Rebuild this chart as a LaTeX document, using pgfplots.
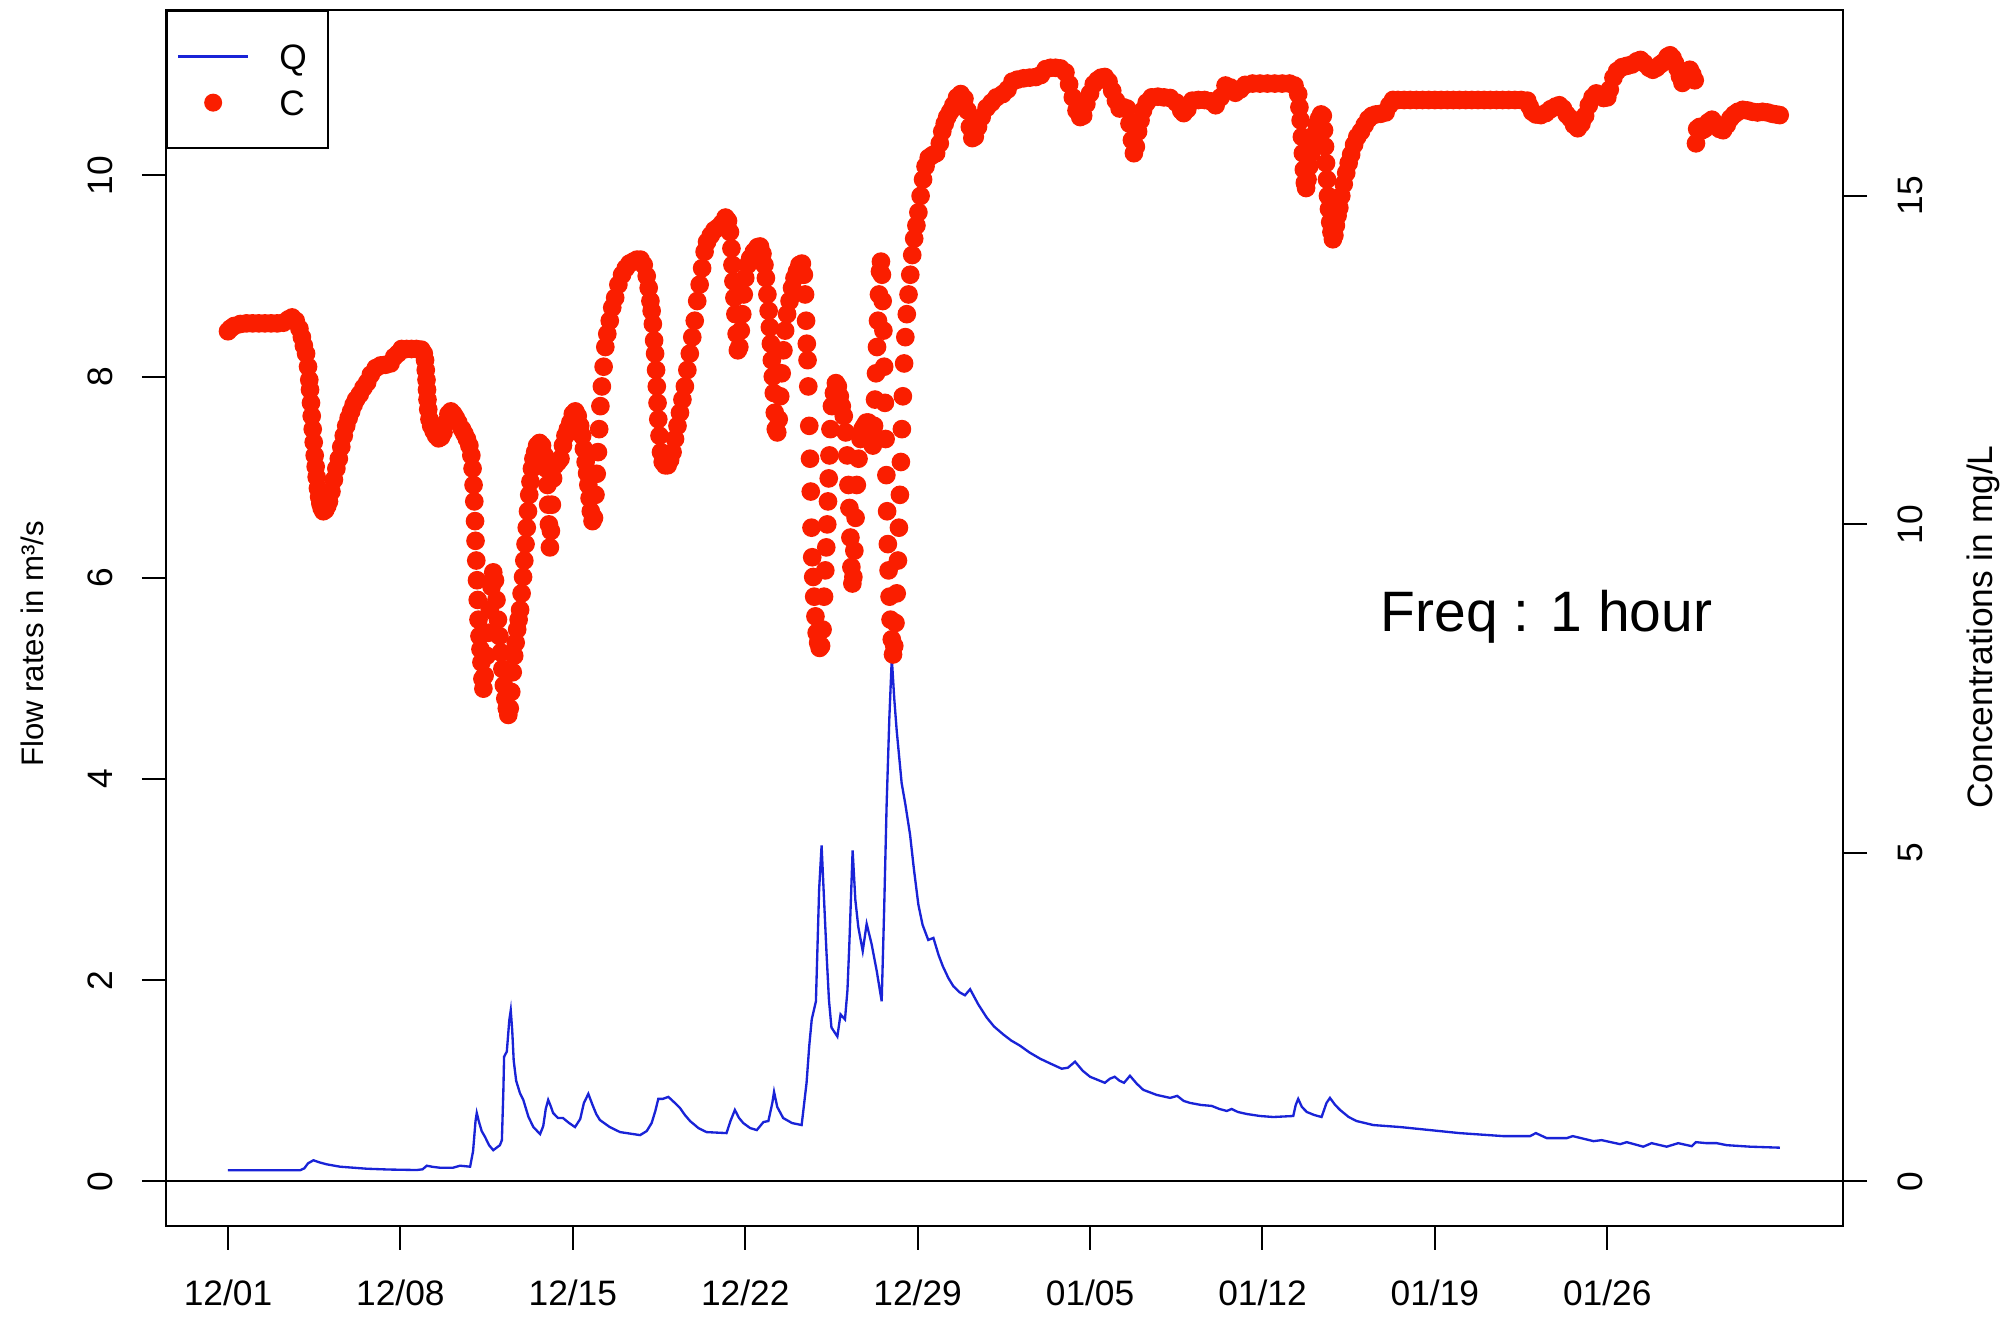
\documentclass[border=0pt]{standalone}
\usepackage{fontspec}
\setmainfont{Liberation Sans}
\usepackage{pgfplots}
\pgfplotsset{compat=1.18}
\definecolor{qblue}{RGB}{25,35,215}
\definecolor{cred}{RGB}{250,30,0}
\begin{document}
\fontsize{10.6}{12.7}\selectfont
\begin{tikzpicture}
\useasboundingbox (0,0) rectangle (602.1pt,395.7pt);
\begin{axis}[
  at={(49.8pt,27.9pt)}, anchor=south west,
  scale only axis, width=503.1pt, height=364.8pt,
  xmin=-2.517, xmax=65.57, ymin=-0.4433, ymax=11.644,
  axis line style={line width=0.6pt},
  every tick/.style={black, line width=0.6pt},
  tick align=outside, major tick length=7.2pt,
  xtick pos=bottom, ytick pos=left,
  xtick={0,7,14,21,28,35,42,49,56},
  xticklabels={12/01,12/08,12/15,12/22,12/29,01/05,01/12,01/19,01/26},
  ytick={0,2,4,6,8,10},
  /pgf/number format/assume math mode=true,
  tick label style={font=\fontsize{10.6}{12.7}\selectfont},
  xticklabel style={yshift=-12.9pt, anchor=center, inner sep=0pt},
  yticklabel style={xshift=-12.45pt, rotate=90, anchor=center, inner sep=0pt},
  ylabel={Flow rates in m³/s},
  ylabel style={at={(axis description cs:-0.0799,0.4786)}, anchor=center, inner sep=0pt, font=\fontsize{9.35}{11}\selectfont},
]
\addplot[black, line width=0.6pt, forget plot] coordinates {(-2.517,0) (65.57,0)};
\addplot[qblue, line width=0.7pt, forget plot] coordinates {
(0,0.11)(1,0.11)(2,0.11)(2.92,0.11)(3.1,0.13)(3.25,0.18)(3.47,0.21)(3.7,0.19)(4,0.17)(4.55,0.146)(5.63,0.126)(6.5,0.118)(7.66,0.113)(7.9,0.12)(8.07,0.156)(8.3,0.145)(8.6,0.136)(9.14,0.136)(9.42,0.156)(9.83,0.146)(9.95,0.3)(10.05,0.6)(10.1,0.68)(10.18,0.6)(10.3,0.5)(10.44,0.44)(10.6,0.36)(10.77,0.31)(11.04,0.36)(11.12,0.41)(11.18,0.9)(11.21,1.24)(11.32,1.29)(11.42,1.6)(11.48,1.70)(11.54,1.5)(11.6,1.2)(11.7,1.0)(11.85,0.88)(11.99,0.81)(12.2,0.64)(12.4,0.54)(12.67,0.47)(12.8,0.55)(12.9,0.72)(13,0.81)(13.1,0.75)(13.2,0.68)(13.4,0.63)(13.6,0.63)(13.85,0.58)(14.09,0.54)(14.3,0.62)(14.45,0.78)(14.63,0.87)(14.8,0.76)(14.95,0.67)(15.1,0.61)(15.5,0.54)(15.92,0.49)(16.73,0.46)(17,0.5)(17.2,0.58)(17.35,0.7)(17.47,0.82)(17.65,0.82)(17.88,0.84)(18.1,0.79)(18.35,0.73)(18.55,0.66)(18.76,0.60)(19.1,0.53)(19.43,0.49)(20.24,0.48)(20.4,0.6)(20.58,0.71)(20.75,0.63)(20.92,0.58)(21.2,0.53)(21.47,0.51)(21.74,0.59)(21.94,0.60)(22.1,0.78)(22.17,0.89)(22.3,0.74)(22.54,0.63)(22.9,0.58)(23.29,0.56)(23.49,0.98)(23.6,1.35)(23.7,1.61)(23.87,1.79)(24.0,2.9)(24.1,3.34)(24.2,2.8)(24.3,2.27)(24.4,1.8)(24.5,1.53)(24.74,1.44)(24.87,1.66)(25.05,1.61)(25.15,1.9)(25.23,2.38)(25.36,3.29)(25.47,2.8)(25.59,2.53)(25.77,2.29)(25.93,2.56)(26.13,2.36)(26.34,2.09)(26.54,1.79)(26.64,2.7)(26.74,3.74)(26.85,4.6)(26.95,5.2)(27.05,4.8)(27.15,4.48)(27.35,3.96)(27.5,3.75)(27.69,3.45)(27.85,3.1)(28.03,2.75)(28.2,2.55)(28.43,2.40)(28.64,2.42)(28.85,2.25)(29.02,2.14)(29.25,2.02)(29.45,1.94)(29.7,1.88)(29.92,1.85)(30.13,1.91)(30.46,1.76)(30.8,1.63)(31.1,1.54)(31.48,1.46)(31.8,1.40)(32.15,1.35)(32.55,1.28)(32.97,1.22)(33.4,1.17)(33.85,1.12)(34.1,1.13)(34.39,1.19)(34.7,1.1)(35,1.04)(35.4,1)(35.6,0.98)(35.8,1.02)(36,1.04)(36.2,1.0)(36.38,0.98)(36.62,1.05)(36.9,0.97)(37.16,0.91)(37.7,0.86)(38.25,0.83)(38.54,0.85)(38.8,0.8)(39.06,0.78)(39.5,0.76)(39.94,0.75)(40.25,0.72)(40.55,0.70)(40.75,0.72)(41.0,0.69)(41.36,0.67)(41.9,0.65)(42.44,0.64)(43.25,0.65)(43.35,0.76)(43.45,0.82)(43.6,0.74)(43.8,0.69)(44.1,0.66)(44.4,0.64)(44.6,0.78)(44.74,0.83)(44.95,0.76)(45.15,0.71)(45.5,0.64)(45.82,0.60)(46.5,0.56)(47.6,0.54)(48.4,0.52)(50,0.48)(51.78,0.45)(52.86,0.45)(53.1,0.48)(53.54,0.43)(54.35,0.43)(54.6,0.45)(55.44,0.40)(55.77,0.41)(56.52,0.37)(56.79,0.39)(57.46,0.345)(57.8,0.38)(58.41,0.345)(58.88,0.38)(59.43,0.35)(59.6,0.39)(60.03,0.38)(60.44,0.38)(60.85,0.36)(61.8,0.345)(63.01,0.335)
};
\node[anchor=base west, inner sep=0pt, font=\fontsize{17.1}{20}\selectfont] at (axis cs:46.77,5.47) {Freq : 1 hour};
\end{axis}
\begin{axis}[
  at={(49.8pt,27.9pt)}, anchor=south west,
  scale only axis, width=503.1pt, height=364.8pt,
  xmin=-2.517, xmax=65.57, ymin=-0.679, ymax=17.83,
  axis x line=none, axis y line*=right,
  axis line style={line width=0.6pt},
  every tick/.style={black, line width=0.6pt},
  tick align=outside, major tick length=7.2pt,
  ytick={0,5,10,15},
  /pgf/number format/assume math mode=true,
  tick label style={font=\fontsize{10.6}{12.7}\selectfont},
  yticklabel style={xshift=12.9pt, rotate=90, anchor=center, inner sep=0pt},
  ylabel={Concentrations in mg/L},
  ylabel style={at={(axis description cs:1.0835,0.4926)}, anchor=center, inner sep=0pt, font=\fontsize{10.6}{12.7}\selectfont},
  legend cell align=left,
  legend style={at={(0,1)}, anchor=north west, draw=black, line width=0.6pt, fill=white,
    inner xsep=3pt, inner ysep=9.9pt, row sep=6.2pt,
    font=\fontsize{10.6}{12.7}\selectfont,
    nodes={inner sep=0pt, text height=7.6pt, text depth=0pt},
    /tikz/every odd column/.append style={column sep=9pt}},
]
\addlegendimage{qblue, line width=0.7pt, legend image code/.code={\draw[qblue, line width=0.7pt] (0pt,0pt) -- (21pt,0pt);}}
\addlegendentry{Q\rule{3.45pt}{0pt}}
\addlegendimage{cred, legend image code/.code={\path[draw=none] (0pt,0pt) -- (21pt,0pt); \fill[cred, draw=none] (10.5pt,0pt) circle (2.7pt);}}
\addlegendentry{C}
\addplot[only marks, mark=*, color=cred, mark size=2.6pt, mark options={draw=none, fill=cred}, forget plot] coordinates {
(0,12.94)(0.1,12.98)(0.25,13.02)(0.5,13.05)(0.75,13.06)(1,13.06)(1.25,13.06)(1.5,13.06)(1.75,13.06)(2,13.06)(2.25,13.07)(2.45,13.12)(2.6,13.15)(2.75,13.1)(2.9,12.98)
(3,12.85)(3.08,12.72)(3.17,12.6)(3.25,12.4)(3.3,12.2)(3.33,12.05)(3.37,11.85)(3.4,11.65)(3.44,11.45)(3.48,11.25)(3.52,11.05)(3.56,10.88)(3.6,10.72)(3.65,10.55)(3.7,10.42)(3.75,10.32)(3.8,10.25)(3.87,10.2)(3.95,10.22)(4.03,10.28)(4.1,10.35)
(4.2,10.5)(4.3,10.68)(4.4,10.85)(4.5,11)(4.6,11.18)(4.7,11.35)(4.8,11.5)(4.9,11.62)(5,11.72)(5.1,11.82)(5.2,11.9)(5.35,11.98)(5.5,12.08)(5.65,12.16)(5.8,12.28)(6,12.38)(6.2,12.42)(6.4,12.43)(6.6,12.45)(6.75,12.55)(6.9,12.6)(7.05,12.67)(7.25,12.67)(7.45,12.67)(7.65,12.67)(7.85,12.66)
(7.95,12.6)(8,12.5)(8.03,12.35)(8.06,12.2)(8.08,12.05)(8.1,11.9)(8.13,11.75)(8.18,11.6)(8.25,11.5)(8.35,11.42)(8.45,11.35)(8.55,11.31)(8.65,11.33)(8.75,11.4)(8.85,11.55)(8.95,11.68)(9.05,11.72)(9.15,11.68)(9.25,11.62)(9.35,11.55)(9.5,11.45)(9.6,11.38)(9.7,11.3)(9.8,11.2)(9.88,11.05)
(9.93,10.85)(9.97,10.6)(10,10.35)(10.03,10.05)(10.05,9.75)(10.08,9.45)(10.11,9.15)(10.14,8.85)(10.17,8.55)(10.21,8.3)(10.25,8.1)(10.29,7.9)(10.33,7.65)(10.37,7.5)
(10.42,7.7)(10.5,8)(10.57,8.35)(10.63,8.7)(10.7,9.05)(10.77,9.27)(10.84,9.15)(10.9,8.85)(10.96,8.55)(11.02,8.3)(11.08,8.05)(11.14,7.8)(11.2,7.55)(11.26,7.35)(11.32,7.2)(11.38,7.1)(11.44,7.2)(11.5,7.45)(11.56,7.75)(11.62,8)(11.68,8.2)(11.74,8.4)(11.8,8.55)(11.86,8.7)(11.92,8.95)(11.98,9.2)(12.03,9.45)(12.08,9.7)(12.13,9.95)(12.18,10.2)(12.23,10.45)(12.28,10.65)(12.34,10.85)(12.4,11)(12.47,11.1)(12.55,11.2)(12.65,11.24)(12.75,11.2)(12.85,11.05)(12.92,10.85)
(12.97,10.6)(13,10.3)(13.03,10)(13.07,9.65)(13.11,9.9)(13.15,10.3)(13.2,10.7)(13.28,10.9)(13.4,10.95)(13.5,11)(13.6,11.2)(13.7,11.35)(13.8,11.45)(13.9,11.55)(14,11.68)(14.1,11.72)(14.2,11.65)(14.3,11.5)(14.38,11.35)(14.45,11.15)(14.52,10.95)(14.58,10.78)(14.63,10.6)(14.68,10.4)(14.73,10.2)(14.8,10.05)(14.86,10.1)(14.92,10.45)(14.97,10.77)(15.02,11.1)(15.07,11.45)(15.12,11.8)(15.18,12.1)(15.25,12.4)(15.32,12.7)(15.4,12.9)(15.5,13.1)(15.6,13.3)(15.72,13.45)(15.85,13.65)(16,13.8)(16.15,13.9)(16.3,13.97)(16.45,14)(16.6,14.03)(16.75,14.03)(16.88,13.95)(17,13.78)(17.08,13.6)(17.15,13.4)(17.2,13.25)(17.25,13.05)(17.3,12.8)(17.34,12.6)(17.38,12.35)(17.41,12.1)(17.44,11.85)(17.47,11.6)(17.52,11.35)(17.58,11.1)(17.65,10.95)(17.75,10.9)(17.85,10.9)(17.95,10.98)(18.05,11.1)(18.15,11.3)(18.25,11.5)(18.35,11.7)(18.45,11.9)(18.55,12.1)(18.65,12.35)(18.75,12.6)(18.85,12.85)(18.95,13.1)(19.05,13.4)(19.15,13.65)(19.25,13.9)(19.35,14.15)(19.45,14.3)(19.6,14.4)(19.75,14.48)(19.9,14.52)(20.05,14.58)(20.2,14.67)(20.3,14.62)(20.38,14.45)(20.44,14.2)(20.48,13.95)(20.52,13.7)(20.56,13.45)(20.6,13.2)(20.65,12.9)(20.7,12.65)(20.76,12.7)(20.82,12.95)(20.88,13.2)(20.94,13.5)(21,13.75)(21.1,13.95)(21.2,14.05)(21.35,14.15)(21.5,14.22)(21.6,14.23)(21.7,14.12)(21.78,13.95)(21.84,13.75)(21.9,13.5)(21.95,13.25)(22,13)(22.04,12.75)(22.08,12.5)(22.12,12.25)(22.16,12)(22.2,11.7)(22.24,11.45)(22.3,11.4)(22.36,11.6)(22.42,11.95)(22.48,12.3)(22.55,12.65)(22.62,12.95)(22.7,13.2)(22.8,13.4)(22.9,13.6)(23,13.75)(23.1,13.85)(23.2,13.95)(23.3,13.97)(23.38,13.8)(23.43,13.5)(23.47,13.1)(23.5,12.75)(23.53,12.5)(23.56,12.1)(23.6,11.5)(23.63,11)(23.66,10.5)(23.69,9.95)(23.72,9.5)(23.76,9.2)(23.8,8.9)(23.85,8.6)(23.9,8.35)(23.96,8.2)(24.02,8.12)(24.08,8.15)(24.14,8.4)(24.2,8.9)(24.25,9.3)(24.29,9.65)(24.33,10)(24.36,10.35)(24.39,10.7)(24.42,11.05)(24.46,11.45)(24.52,11.8)(24.6,12)(24.68,12.15)(24.76,12.1)(24.84,11.95)(24.92,11.8)(25,11.65)(25.08,11.4)(25.14,11.05)(25.19,10.6)(25.23,10.25)(25.27,9.8)(25.31,9.35)(25.35,9.1)(25.39,9.2)(25.43,9.6)(25.48,10.1)(25.53,10.6)(25.6,11)(25.68,11.3)(25.76,11.45)(25.84,11.5)(25.92,11.55)(26,11.55)(26.06,11.45)(26.12,11.3)(26.18,11.2)(26.23,11.5)(26.27,11.9)(26.31,12.3)(26.35,12.7)(26.39,13.1)(26.43,13.5)(26.47,13.85)(26.51,14)(26.55,13.8)(26.58,13.4)(26.61,12.95)(26.64,12.4)(26.67,11.85)(26.7,11.3)(26.73,10.75)(26.76,10.2)(26.79,9.7)(26.82,9.3)(26.86,8.9)(26.9,8.55)(26.95,8.25)(27,8.02)(27.05,8.15)(27.1,8.5)(27.15,8.95)(27.2,9.45)(27.24,9.95)(27.28,10.45)(27.32,10.95)(27.36,11.45)(27.4,11.95)(27.45,12.45)(27.5,12.85)(27.56,13.2)(27.63,13.5)(27.7,13.8)(27.78,14.1)(27.86,14.35)(27.95,14.55)(28.03,14.75)(28.12,15)(28.22,15.25)(28.32,15.45)(28.45,15.58)(28.6,15.62)(28.75,15.65)(28.9,15.8)(29,15.98)(29.1,16.1)(29.2,16.2)(29.32,16.28)(29.45,16.38)(29.6,16.5)(29.75,16.55)(29.9,16.48)(30.02,16.3)(30.12,16.05)(30.22,15.88)(30.32,15.9)(30.45,16.05)(30.6,16.2)(30.8,16.34)(31,16.42)(31.2,16.5)(31.45,16.55)(31.65,16.62)(31.85,16.74)(32.05,16.77)(32.3,16.79)(32.55,16.8)(32.8,16.81)(33,16.84)(33.2,16.93)(33.4,16.95)(33.6,16.95)(33.8,16.94)(34,16.88)(34.15,16.7)(34.3,16.5)(34.45,16.3)(34.6,16.2)(34.72,16.22)(34.85,16.4)(35,16.56)(35.15,16.7)(35.3,16.76)(35.45,16.8)(35.6,16.81)(35.75,16.74)(35.9,16.6)(36.05,16.45)(36.2,16.33)(36.35,16.35)(36.5,16.33)(36.6,16.1)(36.7,15.85)(36.78,15.65)(36.86,15.75)(36.95,15.98)(37.05,16.15)(37.15,16.3)(37.3,16.42)(37.5,16.5)(37.75,16.51)(38,16.5)(38.25,16.49)(38.5,16.42)(38.7,16.3)(38.8,16.26)(38.95,16.32)(39.15,16.45)(39.4,16.46)(39.65,16.46)(39.9,16.44)(40.1,16.38)(40.3,16.5)(40.5,16.68)(40.7,16.65)(40.9,16.57)(41.1,16.62)(41.3,16.69)(41.6,16.71)(41.9,16.71)(42.2,16.71)(42.5,16.71)(42.8,16.71)(43.1,16.71)(43.3,16.68)
(43.45,16.55)(43.5,16.35)(43.55,16.15)(43.6,15.9)(43.64,15.65)(43.68,15.4)(43.72,15.2)(43.77,15.12)(43.83,15.25)(43.9,15.45)(43.98,15.65)(44.06,15.82)(44.14,15.95)(44.22,16.08)(44.3,16.18)(44.38,16.24)(44.45,16.22)(44.5,16)(44.54,15.75)(44.58,15.5)(44.62,15.25)(44.66,15)(44.7,14.8)(44.75,14.6)(44.8,14.45)(44.86,14.34)(44.92,14.4)(44.98,14.55)(45.05,14.7)(45.12,14.82)(45.2,15)(45.3,15.18)(45.4,15.35)(45.5,15.5)(45.6,15.63)(45.72,15.78)(45.85,15.9)(46,15.98)(46.15,16.08)(46.3,16.17)(46.45,16.22)(46.6,16.24)(46.8,16.25)(47,16.27)(47.15,16.38)(47.3,16.46)(47.5,16.46)(47.75,16.46)(48,16.46)(48.25,16.46)(48.5,16.46)(48.75,16.46)(49,16.46)(49.25,16.46)(49.5,16.46)(49.75,16.46)(50,16.46)(50.25,16.46)(50.5,16.46)(50.75,16.46)(51,16.46)(51.25,16.46)(51.5,16.46)(51.75,16.46)(52,16.46)(52.25,16.46)(52.5,16.46)(52.75,16.45)
(52.85,16.36)(52.95,16.28)(53.1,16.24)(53.3,16.23)(53.5,16.26)(53.7,16.32)(53.9,16.36)(54.05,16.38)(54.2,16.33)(54.35,16.24)(54.5,16.18)(54.65,16.08)(54.8,16.03)(54.95,16.1)(55.1,16.22)(55.25,16.38)(55.4,16.5)(55.55,16.56)(55.7,16.53)(55.85,16.49)(56,16.5)(56.1,16.62)(56.25,16.8)(56.4,16.9)(56.6,16.96)(56.8,16.98)(57,17)(57.2,17.05)(57.35,17.07)(57.5,17.02)(57.7,16.95)(57.85,16.92)(58,16.95)(58.15,17)(58.3,17.04)(58.45,17.12)(58.55,17.14)(58.65,17.1)(58.75,17.02)(58.85,16.94)(58.95,16.82)(59.05,16.72)(59.15,16.76)(59.25,16.88)(59.35,16.92)(59.45,16.85)(59.55,16.76)
(59.6,15.8)(59.65,16.02)(59.75,16.05)(59.85,16)(59.95,16.02)(60.1,16.12)(60.25,16.16)(60.4,16.1)(60.55,16.02)(60.7,16)(60.85,16.08)(61,16.18)(61.15,16.24)(61.3,16.28)(61.5,16.31)(61.7,16.3)(61.9,16.28)(62.1,16.27)(62.3,16.28)(62.5,16.27)(62.7,16.25)(62.85,16.24)(63,16.23)
};
\end{axis}
\end{tikzpicture}
\end{document}
